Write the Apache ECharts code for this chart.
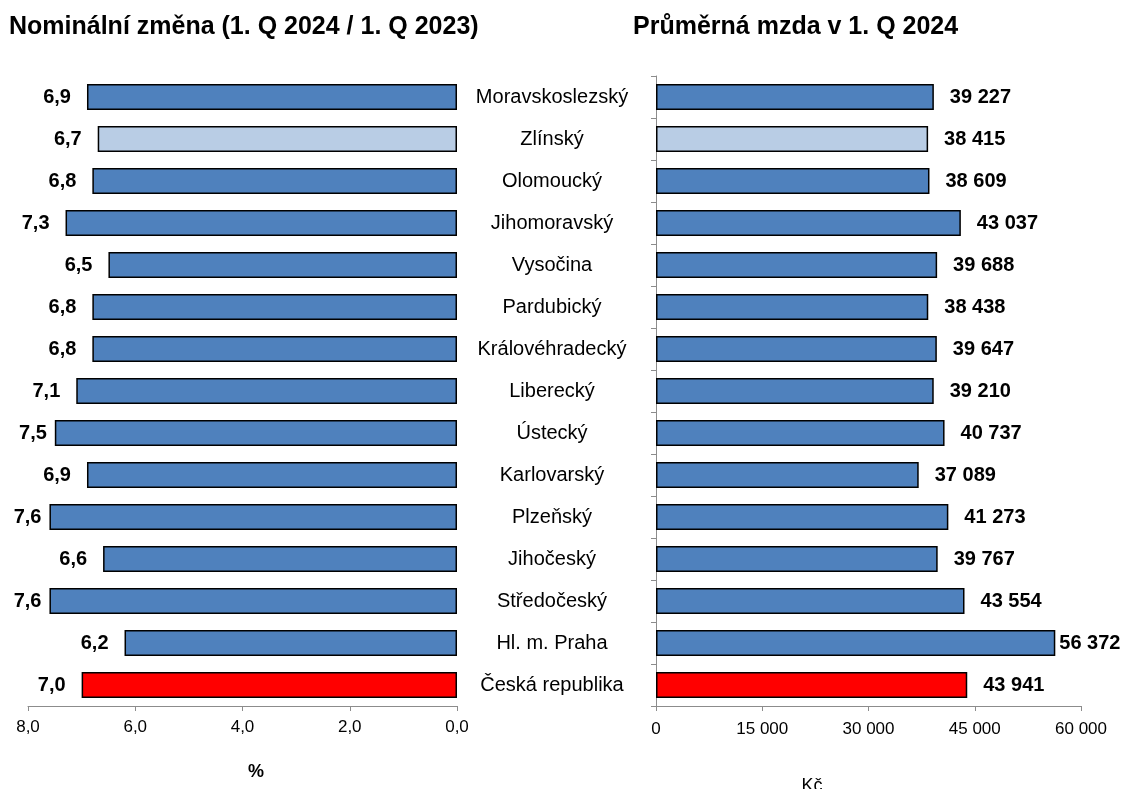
<!DOCTYPE html>
<html>
<head>
<meta charset="utf-8">
<script src="https://cdn.jsdelivr.net/npm/echarts@6/dist/echarts.min.js"></script>
<style>
html,body{margin:0;padding:0;background:#fff;}
#chart{width:1126px;height:789px;}
</style>
</head>
<body>
<div id="chart"></div>
<script>
const categories = ["Moravskoslezský","Zlínský","Olomoucký","Jihomoravský","Vysočina","Pardubický","Královéhradecký","Liberecký","Ústecký","Karlovarský","Plzeňský","Jihočeský","Středočeský","Hl. m. Praha","Česká republika"];
const nominalChange = [6.9,6.7,6.8,7.3,6.5,6.8,6.8,7.1,7.5,6.9,7.6,6.6,7.6,6.2,7.0];
const averageWage = [39227,38415,38609,43037,39688,38438,39647,39210,40737,37089,41273,39767,43554,56372,43941];
const highlightLight = ["Zlínský"];
const highlightRed = ["Česká republika"];
const leftTicks = {min:0,max:8,interval:2};
const rightTicks = {min:0,max:60000,interval:15000};
const leftTitle = "Nominální změna (1. Q 2024 / 1. Q 2023)";
const rightTitle = "Průměrná mzda v 1. Q 2024";
const leftUnit = "%";
const rightUnit = "Kč";

const FONT = "'Liberation Sans', Arial, sans-serif";
const BLUE = "#4F81BD", LIGHT = "#B9CDE5", RED = "#FF0000";
function colorFor(c){ return highlightRed.includes(c) ? RED : (highlightLight.includes(c) ? LIGHT : BLUE); }
function fmtPct(v){ return v.toFixed(1).replace('.', ','); }
function fmtKc(v){ return String(Math.round(v)).replace(/\B(?=(\d{3})+(?!\d))/g, ' '); }

const leftData = nominalChange.map((v,i)=>{
  const item = {value:v, itemStyle:{color:colorFor(categories[i])}};
  if (v >= 7.5) item.label = {distance:8};
  return item;
});
const rightData = averageWage.map((v,i)=>{
  const item = {value:v, itemStyle:{color:colorFor(categories[i])}};
  if (v > 55000) item.label = {distance:4};
  return item;
});

const axisGray = "#8c8c8c";
const chart = echarts.init(document.getElementById('chart'));
chart.setOption({
  animation:false,
  textStyle:{fontFamily:FONT},
  grid:[
    {left:28, top:76, width:429, height:630},
    {left:656, top:76, width:425, height:630}
  ],
  xAxis:[
    {gridIndex:0, type:'value', inverse:true, min:leftTicks.min, max:leftTicks.max, interval:leftTicks.interval,
     splitLine:{show:false}, axisLine:{show:true, lineStyle:{color:axisGray, width:1}},
     axisTick:{show:true, length:5, lineStyle:{color:axisGray}},
     axisLabel:{color:'#000', fontSize:17, fontFamily:FONT, margin:13, formatter:v=>fmtPct(v)}},
    {gridIndex:1, type:'value', min:rightTicks.min, max:rightTicks.max, interval:rightTicks.interval,
     splitLine:{show:false}, axisLine:{show:true, lineStyle:{color:axisGray, width:1}},
     axisTick:{show:true, length:5, lineStyle:{color:axisGray}},
     axisLabel:{color:'#000', fontSize:17, fontFamily:FONT, margin:15, formatter:v=>fmtKc(v)}}
  ],
  yAxis:[
    {gridIndex:0, type:'category', data:categories, inverse:true,
     axisLine:{show:false}, axisTick:{show:false}, axisLabel:{show:false}, splitLine:{show:false}},
    {gridIndex:1, type:'category', data:categories, inverse:true,
     axisLine:{show:true, lineStyle:{color:axisGray, width:1}},
     axisTick:{show:true, length:5, lineStyle:{color:axisGray}},
     axisLabel:{show:true, interval:0, align:'center', margin:104, color:'#000', fontSize:20, fontFamily:FONT},
     splitLine:{show:false}}
  ],
  series:[
    {type:'bar', xAxisIndex:0, yAxisIndex:0, data:leftData, barWidth:26,
     itemStyle:{borderColor:'#000', borderWidth:1.5},
     label:{show:true, position:'left', distance:16, color:'#000', fontWeight:'bold', fontSize:20, fontFamily:FONT, formatter:p=>fmtPct(p.value)}},
    {type:'bar', xAxisIndex:1, yAxisIndex:1, data:rightData, barWidth:26,
     itemStyle:{borderColor:'#000', borderWidth:1.5},
     label:{show:true, position:'right', distance:16, color:'#000', fontWeight:'bold', fontSize:20, fontFamily:FONT, formatter:p=>fmtKc(p.value)}}
  ],
  graphic:[
    {type:'text', left:9, top:15, style:{text:leftTitle, font:"bold 25px "+FONT, fill:'#000'}},
    {type:'text', left:633, top:15, style:{text:rightTitle, font:"bold 25px "+FONT, fill:'#000'}},
    {type:'text', x:256, y:772, style:{text:leftUnit, font:"bold 18px "+FONT, fill:'#000', align:'center', verticalAlign:'middle'}},
    {type:'text', x:812, y:786, style:{text:rightUnit, font:"18px "+FONT, fill:'#000', align:'center', verticalAlign:'middle'}}
  ]
});
</script>
</body>
</html>
